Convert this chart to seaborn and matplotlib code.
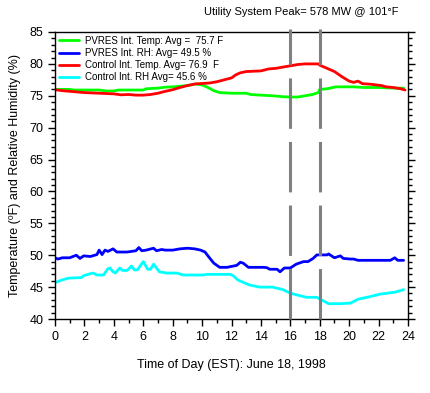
import pandas as pd
import matplotlib
matplotlib.use("Agg")
import matplotlib.pyplot as plt
import seaborn as sns

# PVRES interior temperature (F)
pv_temp_h = [0, 1.0, 1.3, 2, 3, 3.5, 4, 4.3, 5, 6, 6.2, 7, 7.5, 8, 8.5, 9, 9.6, 10, 10.4,
             10.8, 11.2, 12, 13, 13.3, 14, 14.8, 15.5, 16, 16.5, 17, 17.5, 17.9, 18.0,
             18.5, 19.1, 19.5, 20.3, 21, 22, 23, 23.7]
pv_temp = [76.0, 76.0, 75.9, 75.9, 75.9, 75.75, 75.75, 75.9, 75.9, 75.9, 76.1, 76.2, 76.35,
           76.4, 76.5, 76.6, 76.85, 76.7, 76.3, 75.8, 75.5, 75.4, 75.4, 75.2, 75.1, 75.0,
           74.85, 74.8, 74.8, 75.0, 75.2, 75.5, 76.0, 76.1, 76.4, 76.4, 76.4, 76.3, 76.3,
           76.2, 76.2]

# PVRES interior relative humidity (%)
pv_rh_h = [0, 0.2, 0.5, 1.0, 1.45, 1.7, 1.95, 2.4, 2.85, 3.0, 3.2, 3.4, 3.6, 3.95, 4.2, 4.9,
           5.5, 5.7, 5.9, 6.2, 6.7, 6.9, 7.25, 7.5, 8.0, 8.5, 9.0, 9.5, 9.9, 10.2, 10.5, 10.8,
           11.2, 11.7, 11.9, 12.35, 12.6, 12.8, 13.15, 13.5, 14.2, 14.4, 14.6, 15.1, 15.3,
           15.6, 16.0, 16.4, 16.9, 17.2, 17.55, 17.8, 18.5, 18.6, 19.0, 19.4, 19.6, 20.1,
           20.3, 20.6, 22.8, 23.1, 23.3, 23.7]
pv_rh = [49.6, 49.4, 49.6, 49.6, 50.0, 49.5, 49.9, 49.8, 50.1, 50.8, 50.1, 50.8, 50.6, 51.0,
         50.5, 50.5, 50.7, 51.2, 50.7, 50.8, 51.1, 50.7, 50.9, 50.8, 50.8, 51.0, 51.1, 51.0,
         50.8, 50.5, 49.6, 48.75, 48.1, 48.1, 48.2, 48.4, 48.9, 48.75, 48.1, 48.1, 48.1,
         48.05, 47.8, 47.8, 47.4, 48.0, 48.0, 48.6, 49.0, 49.0, 49.5, 50.05, 50.05, 50.2,
         49.6, 49.9, 49.5, 49.4, 49.4, 49.2, 49.2, 49.6, 49.2, 49.2]

# Control house interior temperature (F)
ctl_temp_h = [0, 0.5, 1, 2, 3, 4, 4.5, 5, 5.5, 6, 6.5, 7, 7.5, 8, 8.5, 9, 9.5, 10.5, 11,
              11.5, 12.0, 12.3, 12.6, 13, 14, 14.5, 15, 15.5, 16, 16.5, 17, 17.5, 17.9,
              18.0, 18.3, 18.6, 19.0, 19.5, 20.0, 20.3, 20.6, 20.9, 21.5, 22.2, 22.5, 23.0,
              23.5, 23.8]
ctl_temp = [75.95, 75.8, 75.7, 75.5, 75.4, 75.3, 75.15, 75.2, 75.1, 75.1, 75.2, 75.4, 75.7,
            75.95, 76.3, 76.6, 76.85, 77.0, 77.2, 77.5, 77.8, 78.3, 78.6, 78.8, 78.9, 79.2,
            79.3, 79.5, 79.7, 79.9, 80.0, 80.0, 80.0, 79.8, 79.5, 79.2, 78.8, 78.0, 77.3,
            77.1, 77.3, 76.9, 76.8, 76.6, 76.4, 76.3, 76.1, 75.9]

# Control house interior relative humidity (%)
ctl_rh_h = [0, 0.45, 0.9, 1.8, 1.95, 2.4, 2.6, 2.85, 3.3, 3.6, 3.75, 3.9, 4.1, 4.4, 4.6, 4.9,
            5.2, 5.4, 5.6, 6.0, 6.3, 6.5, 6.7, 7.1, 7.6, 8.3, 8.7, 10.1, 10.3, 11.9, 12.1,
            12.45, 13.2, 13.9, 14.8, 15.5, 16.0, 16.4, 17.1, 17.8, 18.0, 18.6, 19.4, 20.1,
            20.6, 21.4, 22.1, 23.1, 23.7]
ctl_rh = [45.7, 46.1, 46.4, 46.5, 46.8, 47.1, 47.2, 46.9, 46.9, 47.9, 48.0, 47.5, 47.2, 48.0,
          47.6, 47.6, 48.3, 47.7, 47.7, 49.0, 47.8, 47.8, 48.6, 47.4, 47.2, 47.2, 46.9, 46.9,
          47.0, 47.0, 46.8, 46.1, 45.35, 45.0, 45.0, 44.6, 44.05, 43.8, 43.4, 43.4, 43.15,
          42.4, 42.4, 42.5, 43.1, 43.5, 43.9, 44.2, 44.6]

series_names = ["PVRES Int. Temp: Avg =  75.7 F",
                "PVRES Int. RH: Avg= 49.5 %",
                "Control Int. Temp. Avg= 76.9  F",
                "Control Int. RH Avg= 45.6 %"]
series_colors = ["#00ff00", "#0000ff", "#ff0000", "#00ffff"]
peak_hours = [16, 18]

frames = []
for name, h, v in zip(series_names,
                      [pv_temp_h, pv_rh_h, ctl_temp_h, ctl_rh_h],
                      [pv_temp, pv_rh, ctl_temp, ctl_rh]):
    frames.append(pd.DataFrame({"hour": h, "value": v, "series": name}))
df = pd.concat(frames, ignore_index=True)

sns.set_style("ticks")
plt.rcParams["font.family"] = ["Liberation Sans", "DejaVu Sans"]
plt.rcParams["text.color"] = "black"
plt.rcParams["axes.labelcolor"] = "black"
plt.rcParams["xtick.color"] = "black"
plt.rcParams["ytick.color"] = "black"

fig = plt.figure(figsize=(4.31, 3.93), dpi=100)
ax = fig.add_axes([55 / 431, 1 - 319 / 393, 353 / 431, 287 / 393])

# peak window markers (dashed grey)
for h in peak_hours:
    ln = ax.axvline(h, ymin=0, ymax=1.01, color="#808080", lw=2.2,
                    clip_on=False, zorder=3, solid_capstyle="butt")
    ln.set_dashes((16.5, 4.3))
    ln.set_dash_capstyle("butt")

sns.lineplot(data=df, x="hour", y="value", hue="series", hue_order=series_names,
             palette=dict(zip(series_names, series_colors)), linewidth=2.0,
             estimator=None, ax=ax, zorder=2)

ax.set_xlim(0, 24)
ax.set_ylim(40, 85)
ax.set_xticks(range(0, 25, 2))
ax.set_xticks(range(0, 25, 1), minor=True)
ax.set_yticks(range(40, 86, 5))
ax.set_yticks(range(40, 86, 1), minor=True)
ax.tick_params(which="both", direction="out", right=True, top=False,
               labelsize=9, color="black", width=1)
ax.tick_params(which="major", length=5)
ax.tick_params(which="minor", length=3)
for sp in ax.spines.values():
    sp.set_visible(True)
    sp.set_color("black")
    sp.set_linewidth(1)

ax.set_xlabel("Time of Day (EST): June 18, 1998", fontsize=9, labelpad=12)
ax.set_ylabel("Temperature (\u2070F) and Relative Humidity (%)", fontsize=9, labelpad=6)

ax.legend(loc="upper left", frameon=False, fontsize=7, handlelength=2.1,
          handletextpad=0.6, labelspacing=0.22, borderaxespad=0.3, borderpad=0.1)

fig.text(301 / 431, 1 - 12 / 393, "Utility System Peak= 578 MW @ 101\u00b0F",
         ha="center", va="center", fontsize=8)

fig.savefig("out.png", dpi=100)
